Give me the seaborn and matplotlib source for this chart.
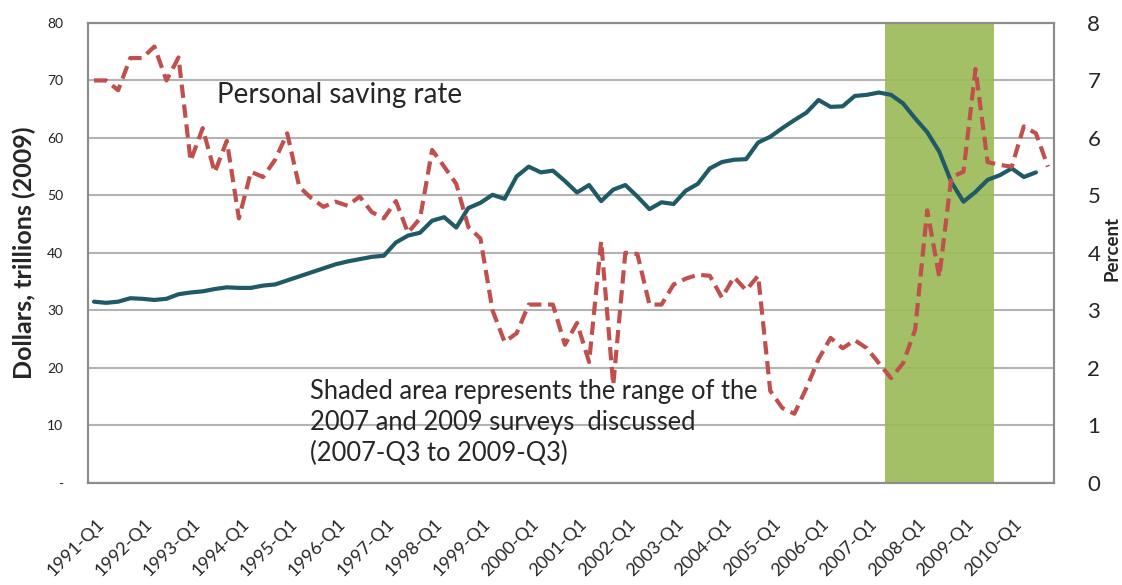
import numpy as np
import matplotlib
matplotlib.use("Agg")
import matplotlib.pyplot as plt
import matplotlib.transforms as mtransforms
import seaborn as sns

years = list(range(1991, 2011))
quarters = [f"{y}-Q{q}" for y in years for q in range(1, 5)]

# household net worth, trillions of 2009 dollars (left axis)
net_worth = [
    31.5, 31.3, 31.5, 32.1, 32.0, 31.8, 32.0, 32.8,
    33.1, 33.3, 33.7, 34.0, 33.9, 33.9, 34.3, 34.5,
    35.2, 35.9, 36.6, 37.3, 38.0, 38.5, 38.9, 39.3,
    39.5, 41.8, 43.0, 43.5, 45.6, 46.2, 44.4, 47.8,
    48.7, 50.1, 49.4, 53.3, 55.0, 54.0, 54.3, 52.5,
    50.5, 51.8, 49.0, 51.0, 51.8, 49.8, 47.6, 48.8,
    48.5, 50.8, 52.0, 54.7, 55.8, 56.2, 56.3, 59.2,
    60.2, 61.7, 63.1, 64.4, 66.6, 65.4, 65.5, 67.3,
    67.5, 67.9, 67.5, 66.0, 63.4, 61.0, 57.6, 52.3,
    48.9, 50.6, 52.7, 53.5, 54.7, 53.2, 54.0,
]

# personal saving rate, percent (right axis)
saving_rate = [
    7.0, 7.0, 6.83, 7.39, 7.39, 7.59, 7.0, 7.4,
    5.6, 6.17, 5.4, 5.95, 4.6, 5.41, 5.32, 5.62,
    6.08, 5.15, 4.95, 4.8, 4.89, 4.82, 4.98, 4.71,
    4.6, 4.9, 4.35, 4.6, 5.79, 5.5, 5.2, 4.45,
    4.25, 3.0, 2.45, 2.6, 3.1, 3.1, 3.1, 2.4,
    2.78, 2.1, 4.2, 1.7, 4.0, 3.98, 3.1, 3.1,
    3.45, 3.55, 3.62, 3.6, 3.22, 3.58, 3.35, 3.6,
    1.6, 1.3, 1.2, 1.65, 2.15, 2.52, 2.34, 2.48,
    2.34, 2.08, 1.82, 2.08, 2.66, 4.74, 3.58, 5.32,
    5.41, 7.2, 5.58, 5.53, 5.5, 6.2, 6.08, 5.5,
]

survey_start = "2007-Q3"
survey_end = "2009-Q3"

sns.set_style("white")
plt.rcParams["font.family"] = ["Lato", "DejaVu Sans"]

fig = plt.figure(figsize=(11.22, 5.85), dpi=100)
ax = fig.add_axes([0.0784, 0.1749, 0.8610, 0.7858])
ax2 = ax.twinx()

x_nw = np.arange(len(net_worth))
x_sr = np.arange(len(saving_rate))

# shaded survey window
i0 = quarters.index(survey_start)
i1 = quarters.index(survey_end)
ax.axvspan(i0 - 0.5, i1 + 0.5, color="#9bbb59", alpha=0.92, lw=0, zorder=1)

sns.lineplot(x=x_nw, y=net_worth, ax=ax, color="#1f5a66", lw=3, zorder=3)
sns.lineplot(x=x_sr, y=saving_rate, ax=ax2, color="#c0504d", lw=3)
ax2.lines[0].set_dashes((3.2, 1.6))

# left axis
ax.set_ylim(0, 80)
ax.set_yticks(range(0, 81, 10))
ax.set_yticklabels(["-"] + [str(v) for v in range(10, 81, 10)])
ax.grid(axis="y", color="#b3b3b3", lw=1.5, zorder=0)
ax.set_axisbelow(True)
ax.set_ylabel("Dollars, trillions (2009)", fontsize=18, fontweight="bold")
ax.yaxis.set_label_coords(-0.054, 0.5)
ax.tick_params(axis="y", length=0, labelsize=10, pad=18, labelcolor="#222222")

# right axis
ax2.set_ylim(0, 8)
ax2.set_yticks(range(0, 9))
ax2.tick_params(axis="y", length=0, labelsize=16, pad=24)
ax2.set_ylabel("Percent", fontsize=13.5, fontweight="bold", rotation=90, va="center")
ax2.yaxis.set_label_coords(1.0605, 0.51)

# category axis
ax.set_xlim(-0.5, len(saving_rate) - 0.5)
ax.set_xticks(x_sr[::4])
ax.set_xticklabels(quarters[::4], rotation=45, ha="right", rotation_mode="anchor")
ax.set_xticks(np.arange(3.5, len(saving_rate) - 1, 4), minor=True)
ax.tick_params(axis="x", which="major", length=0, labelsize=13, pad=24)
ax.tick_params(axis="x", which="minor", direction="in", length=5, width=1.2, color="#888888")
shift = mtransforms.ScaledTranslation(2 / 100, 0, fig.dpi_scale_trans)
for lab in ax.get_xticklabels():
    lab.set_transform(lab.get_transform() + shift)
ax.set_xlabel("")
ax2.set_xlabel("")

for a in (ax, ax2):
    for s in a.spines.values():
        s.set_color("#8c8c8c")
        s.set_linewidth(1.5)

ax.text(10.2, 67.5, "Personal saving rate", fontsize=20, va="center", ha="left", zorder=5)
ax.text(17.9, 10.4,
        "Shaded area represents the range of the\n2007 and 2009 surveys  discussed\n(2007-Q3 to 2009-Q3)",
        fontsize=18.4, va="center", ha="left", linespacing=1.3, zorder=5)

fig.savefig("out.png", dpi=100)
